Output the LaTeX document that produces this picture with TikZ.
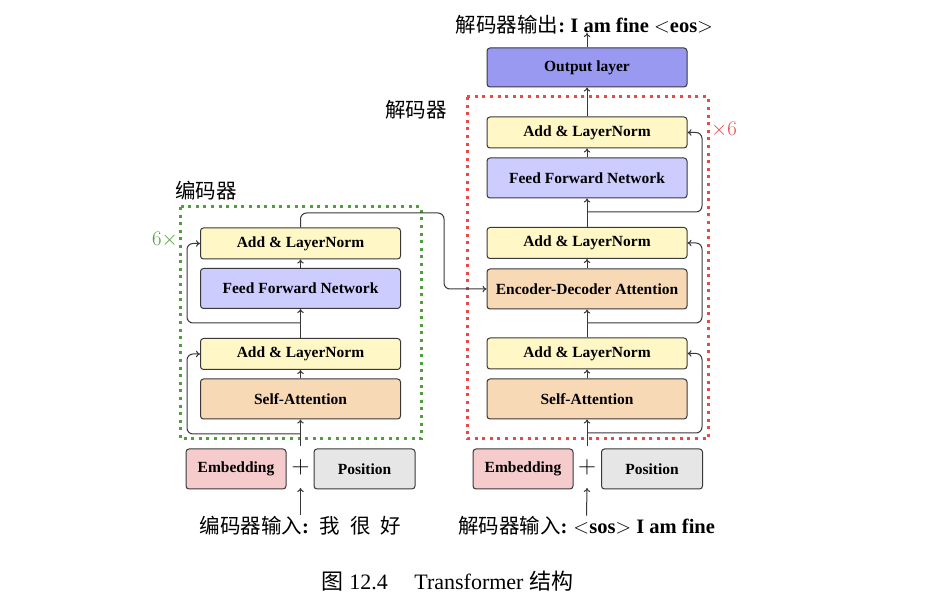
\documentclass[tikz,border=0pt]{standalone}
\usepackage{fontspec}
\setmainfont{Liberation Serif}
\newfontfamily\cjk{Noto Sans CJK SC}
\usetikzlibrary{arrows.meta}
\definecolor{lnY}{HTML}{FFF7C6}
\definecolor{ffnB}{HTML}{CCCCFF}
\definecolor{attO}{HTML}{F8D9B6}
\definecolor{embR}{HTML}{F5CBCB}
\definecolor{posG}{HTML}{E6E6E6}
\definecolor{outB}{HTML}{9999F2}
\definecolor{encG}{HTML}{4FA03C}
\definecolor{decR}{HTML}{EB4848}
\definecolor{lineC}{HTML}{383838}
\tikzset{
  blk/.style={draw=lineC, line width=1pt, rounded corners=3pt, inner sep=0pt,
    minimum width=200pt, font=\bfseries\fontsize{15.5}{16}\selectfont},
  lnbox/.style={blk, fill=lnY, minimum height=31pt},
  ffnbox/.style={blk, fill=ffnB, minimum height=40pt},
  attbox/.style={blk, fill=attO, minimum height=40pt},
  embbox/.style={blk, fill=embR, minimum width=100pt, minimum height=40pt},
  posbox/.style={blk, fill=posG, minimum width=101pt, minimum height=40pt},
  outbox/.style={blk, fill=outB, minimum height=39pt},
  conn/.style={draw=lineC, line width=1pt, -{To[length=4pt,width=6.5pt]}},
  resid/.style={conn, rounded corners=6pt},
  frame/.style={line width=3pt, dash pattern=on 3pt off 4.6pt},
  cjklab/.style={inner sep=0pt, font=\fontsize{20.5}{22}\selectfont},
  plusn/.style={inner xsep=0pt, inner ysep=13pt, font=\fontsize{23}{23}\selectfont},
}
\begin{document}
\begin{tikzpicture}[x=1pt,y=-1pt]
\useasboundingbox (0,0) rectangle (943,609);

% frames
\draw[frame, encG] (180,207) rectangle (421,439);
\draw[frame, decR] (467,97) rectangle (708,439);

% encoder
\node[lnbox]  (eAL1) at (300.5,243.5) {Add \& LayerNorm};
\node[ffnbox] (eFFN) at (300.5,288.5) {Feed Forward Network};
\node[lnbox]  (eAL2) at (300.5,354) {Add \& LayerNorm};
\node[attbox] (eSA)  at (300.5,399) {Self-Attention};
\node[embbox] (eEmb) at (236,469) {Embedding};
\node[posbox] (ePos) at (364.5,469) {Position};
\node[plusn]  (ePlus) at (300.5,467) {$+$};
\node[cjklab, anchor=base] (eIn) at (300.5,533) {{\cjk 编码器输入}\textbf{:}\hspace{0.5em}{\cjk 我}\hspace{0.5em}{\cjk 很}\hspace{0.5em}{\cjk 好}};

\coordinate (eR1) at (300.5,434);
\coordinate (eR2) at (300.5,323);
\draw[conn] (eIn.north) -- (ePlus.south);
\draw[conn] (ePlus.north) -- (eSA.south);
\draw[conn] (eSA.north) -- (eAL2.south);
\draw[conn] (eAL2.north) -- (eFFN.south);
\draw[conn] (eFFN.north) -- (eAL1.south);
\draw[resid] (eR1) -- (187,434) -- (187,354) -- (eAL2.west);
\draw[resid] (eR2) -- (187,323) -- (187,243.5) -- (eAL1.west);

% decoder
\node[outbox] (dOut) at (587,67.5) {Output layer};
\node[lnbox]  (dAL3) at (587,132.5) {Add \& LayerNorm};
\node[ffnbox] (dFFN) at (587,178) {Feed Forward Network};
\node[lnbox]  (dAL2) at (587,243) {Add \& LayerNorm};
\node[attbox] (dEDA) at (587,289) {Encoder-Decoder Attention};
\node[lnbox]  (dAL1) at (587,353.5) {Add \& LayerNorm};
\node[attbox] (dSA)  at (587,399) {Self-Attention};
\node[embbox] (dEmb) at (523,469) {Embedding};
\node[posbox] (dPos) at (652,469) {Position};
\node[plusn]  (dPlus) at (587,467) {$+$};
\node[cjklab, anchor=base] (dIn) at (586.5,533) {{\cjk 解码器输入}\textbf{:}\hspace{0.3em}$<$\textbf{sos}$>$\hspace{0.25em}\textbf{I am fine}};
\node[cjklab, anchor=base] (dOutT) at (584.5,33) {{\cjk 解码器输出}\textbf{:}\hspace{0.25em}\textbf{I am fine}\hspace{0.25em}$<$\textbf{eos}$>$};

\coordinate (dR1) at (587,433);
\coordinate (dR2) at (587,323);
\coordinate (dR3) at (587,212);
\coordinate (dTop) at (587,33);
\draw[conn] (dIn.north) -- (dPlus.south);
\draw[conn] (dPlus.north) -- (dSA.south);
\draw[conn] (dSA.north) -- (dAL1.south);
\draw[conn] (dAL1.north) -- (dEDA.south);
\draw[conn] (dEDA.north) -- (dAL2.south);
\draw[conn] (dAL2.north) -- (dFFN.south);
\draw[conn] (dFFN.north) -- (dAL3.south);
\draw[conn] (dAL3.north) -- (dOut.south);
\draw[conn] (dOut.north) -- (dTop);
\draw[resid] (dR1) -- (702,433) -- (702,353.5) -- (dAL1.east);
\draw[resid] (dR2) -- (702,323) -- (702,243) -- (dAL2.east);
\draw[resid] (dR3) -- (702,212) -- (702,132.5) -- (dAL3.east);

% encoder to decoder
\draw[resid] (eAL1.north) -- (300.5,213) -- (444,213) -- (444,289) -- (dEDA.west);

% labels
\node[cjklab, anchor=west] (encL) at (175,191) {\cjk 编码器};
\node[cjklab, anchor=west] (decL) at (385,110) {\cjk 解码器};
\node[cjklab, anchor=east, text=encG] (encN) at (178,240) {$6\times$};
\node[cjklab, anchor=west, text=decR] (decN) at (711,130) {$\times 6$};

% caption
\node[inner sep=0pt, font=\fontsize{22}{24}\selectfont, anchor=base] (cap) at (447.5,589) {{\cjk 图}\ 12.4\hspace{1.2em}Transformer {\cjk 结构}};
\end{tikzpicture}
\end{document}
